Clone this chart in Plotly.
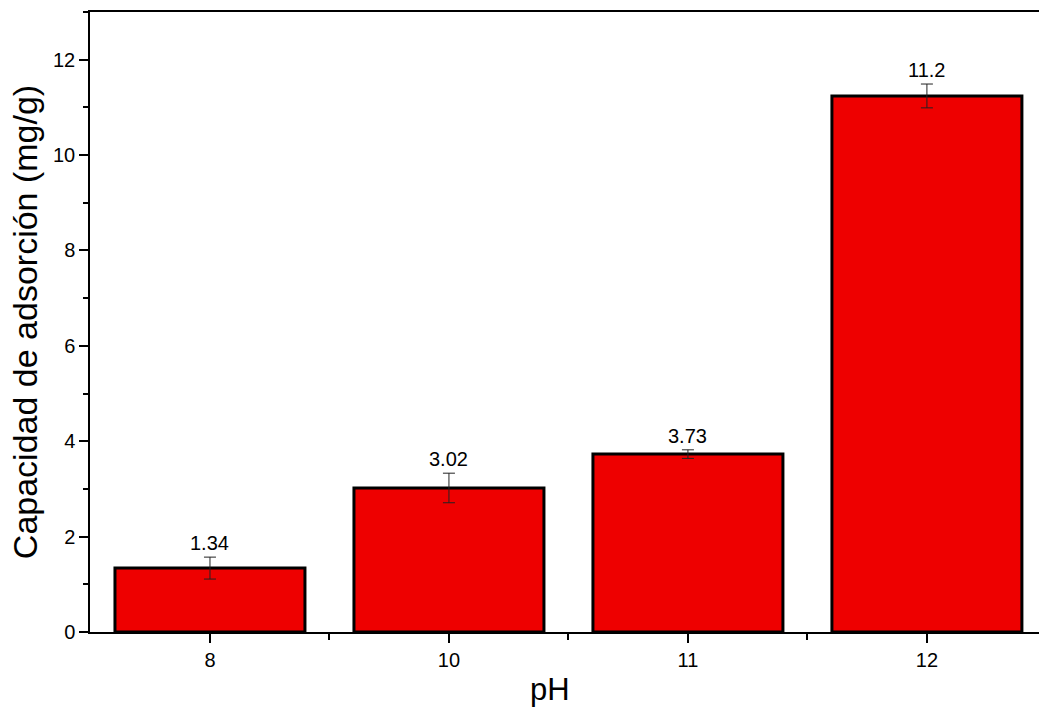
import plotly.graph_objects as go

# Adsorption capacity (mg/g) measured at each pH, with standard deviation
ph_labels = ["8", "10", "11", "12"]
capacity = [1.34, 3.02, 3.73, 11.24]
capacity_sd = [0.23, 0.31, 0.09, 0.25]

positions = list(range(len(ph_labels)))
FONT = "Liberation Sans, Arial, sans-serif"

fig = go.Figure()

fig.add_trace(go.Bar(
    x=positions,
    y=capacity,
    width=0.795,
    marker=dict(color="#EE0000", line=dict(color="black", width=3)),
    error_y=dict(type="data", array=capacity_sd, visible=True,
                 color="#222222", thickness=1, width=6),
    showlegend=False,
    hoverinfo="x+y",
))

# value labels above the error bars
for xi, v, e in zip(positions, capacity, capacity_sd):
    fig.add_annotation(
        x=xi, y=v + e, xref="x", yref="y",
        text=f"{v:.3g}", showarrow=False,
        yanchor="bottom", yshift=1,
        font=dict(family=FONT, size=20, color="black"),
    )

# x-axis title
fig.add_annotation(
    x=0.4847, y=0, xref="paper", yref="paper",
    text="pH", showarrow=False, borderpad=0,
    xanchor="center", yanchor="top", yshift=-39,
    font=dict(family=FONT, size=31, color="black"),
)

fig.update_layout(
    width=1039, height=708,
    margin=dict(l=90, r=0, t=12, b=76),
    plot_bgcolor="white", paper_bgcolor="white",
    font=dict(family=FONT, color="black"),
)

fig.update_xaxes(
    range=[-0.502, 3.469],
    tickmode="array", tickvals=positions, ticktext=ph_labels,
    ticks="outside", ticklen=9, tickwidth=1.5, tickcolor="black",
    minor=dict(tickvals=[p + 0.5 for p in positions[:-1]],
               ticks="outside", ticklen=6, tickwidth=1.5, tickcolor="black"),
    showline=True, linecolor="black", linewidth=1.5, mirror=True,
    showgrid=False, zeroline=False,
    tickfont=dict(family=FONT, size=20, color="black"),
)

fig.update_yaxes(
    range=[0, 13],
    dtick=2, tick0=0,
    ticks="outside", ticklen=9, tickwidth=1.5, tickcolor="black",
    minor=dict(dtick=1, tick0=0, ticks="outside", ticklen=5,
               tickwidth=1.5, tickcolor="black"),
    showline=True, linecolor="black", linewidth=1.5, mirror=False,
    showgrid=False, zeroline=False,
    tickfont=dict(family=FONT, size=20, color="black"),
    title=dict(text="Capacidad de adsorción (mg/g)",
               font=dict(family=FONT, size=34, color="black"),
               standoff=5),
)

fig.write_html("out.html")
